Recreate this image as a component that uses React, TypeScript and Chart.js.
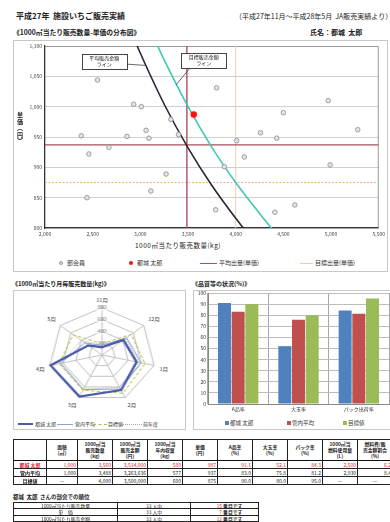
import React, { useEffect, useRef } from 'react';
import { Chart, registerables } from 'chart.js';

Chart.register(...registerables);

const FONT = '"Noto Sans CJK JP", "Noto Sans", sans-serif';
Chart.defaults.font.family = FONT;
Chart.defaults.color = '#333';

// ---------- 分布図 (1000㎡当たり販売数量 - 単価) ----------
const qtyAxis = [2000, 5500, 500];
const priceAxis = [800, 1100, 50];
const memberQty = [2550, 2930, 3010, 3320, 3060, 3400, 2380, 2860, 3090, 2670, 2460, 3270, 3110, 2440, 3800, 4970, 4500, 5280, 4260, 4430, 4010, 4090, 3880, 4990, 4620, 3790, 4410];
const memberPrice = [1044, 1004, 1000, 979, 961, 954, 952, 951, 948, 933, 922, 889, 861, 850, 1031, 1010, 990, 962, 957, 948, 944, 917, 901, 904, 838, 830, 826];
const selfName = '都城 太郎';
const selfQty = 3560;
const selfPrice = 987;
const avgQty = 3488;
const avgPrice = 937;
const targetQty = 4000;
const targetPrice = 875;
const avgCurveQty = [2940, 3000, 3250, 3500, 3750, 4000, 4100];
const avgCurvePrice = [1110, 1088, 1004, 932, 870, 816, 796];
const targetCurveQty = [3170, 3250, 3500, 3750, 4000, 4250, 4400];
const targetCurvePrice = [1104, 1077, 1000, 933, 875, 824, 795];

// ---------- 月毎販売数量 ----------
const months = ['11月', '12月', '1月', '2月', '3月', '4月', '5月'];
const radarAxis = [0, 800, 200];
const selfMonthly = [130, 410, 530, 660, 780, 790, 260];
const avgMonthly = [160, 470, 600, 640, 650, 640, 330];
const targetMonthly = [190, 560, 660, 720, 660, 660, 550];
const prevMonthly = [170, 450, 560, 610, 640, 620, 400];

// ---------- 品質等の状況 ----------
const qualityCategories = ['A品率', '大玉率', 'パック出荷率'];
const selfQuality = [91.1, 52.1, 84.3];
const avgQuality = [83.0, 75.8, 81.2];
const targetQuality = [90.0, 80.0, 95.0];

// ---------- 表 ----------
const tableHeaders = ['', '面積\n(㎡)', '1000㎡当\n販売数量\n(kg)', '1000㎡当\n販売金額\n(円)', '1000㎡当\n年内収量\n(kg)', '単価\n(円)', 'A品率\n(%)', '大玉率\n(%)', 'パック率\n(%)', '1000㎡当\n燃料使用量\n(L)', '燃料費/販\n売金額割合\n(%)'];
const tableRowNames = ['都城 太郎', '管内平均', '目標値'];
const tableSelf = ['1,000', '3,560', '3,514,000', '580', '987', '91.1', '52.1', '84.3', '2,500', '6.2'];
const tableAvg = ['1,000', '3,488', '3,263,636', '577', '937', '83.0', '75.8', '81.2', '2,930', '8.4'];
const tableTarget = ['—', '4,000', '3,500,000', '600', '875', '90.0', '80.0', '95.0', '—', '—'];

const rankItems = ['1000㎡当たり販売数量', '単　価', '1000㎡当たり販売金額'];
const rankTotals = [33, 33, 33];
const rankPositions = [15, 7, 12];

const pts = (xs: number[], ys: number[]) => xs.map((x, i) => ({ x, y: ys[i] }));
const lineDs = (label: string, data: any[], color: string, width: number, dash: number[] = []) => ({
  label, data, showLine: true, borderColor: color, backgroundColor: color, borderWidth: width,
  borderDash: dash, pointRadius: 0, pointHoverRadius: 0, fill: false,
});
const fmt = (v: any) => Number(v).toLocaleString('en-US');

const framePlugin = {
  id: 'frameTR',
  beforeDatasetsDraw(chart: any) {
    const { ctx, chartArea: { left, top, right, bottom } } = chart;
    ctx.save();
    ctx.strokeStyle = '#9a9a9a';
    ctx.lineWidth = 1;
    ctx.beginPath();
    ctx.moveTo(left, top + 0.5);
    ctx.lineTo(right - 0.5, top + 0.5);
    ctx.lineTo(right - 0.5, bottom);
    ctx.stroke();
    ctx.restore();
  },
};

const callouts = [
  { lines: ['平均販売金額', 'ライン'], x: 2622, y: 1075, w: 45, h: 15, tx: 3055, ty: 1068, side: 'right' },
  { lines: ['目標販売金額', 'ライン'], x: 3666, y: 1076, w: 45, h: 15, tx: 3375, ty: 1036, side: 'bottom' },
];

const calloutPlugin = {
  id: 'callouts',
  afterDatasetsDraw(chart: any) {
    const { ctx, scales: { x, y } } = chart;
    callouts.forEach((it) => {
      const cx = x.getPixelForValue(it.x);
      const cy = y.getPixelForValue(it.y);
      const tx = x.getPixelForValue(it.tx);
      const ty = y.getPixelForValue(it.ty);
      const l = Math.round(cx - it.w / 2);
      const t = Math.round(cy - it.h / 2);
      ctx.save();
      ctx.strokeStyle = '#444';
      ctx.lineWidth = 0.8;
      ctx.beginPath();
      if (it.side === 'right') ctx.moveTo(l + it.w, cy + 3);
      else ctx.moveTo(l + 9, t + it.h);
      ctx.lineTo(tx, ty);
      ctx.stroke();
      ctx.fillStyle = '#fff';
      ctx.fillRect(l, t, it.w, it.h);
      ctx.lineWidth = 1;
      ctx.strokeRect(l + 0.5, t + 0.5, it.w, it.h);
      ctx.fillStyle = '#222';
      ctx.font = `5px ${FONT}`;
      ctx.textAlign = 'center';
      ctx.textBaseline = 'middle';
      it.lines.forEach((ln, i) => ctx.fillText(ln, cx, t + 4.5 + i * 6));
      ctx.restore();
    });
  },
};

const abs = (left: number, top: number, extra: any = {}) => ({ position: 'absolute' as const, left, top, ...extra });

export default function App() {
  const scatterRef = useRef<HTMLCanvasElement>(null);
  const radarRef = useRef<HTMLCanvasElement>(null);
  const barRef = useRef<HTMLCanvasElement>(null);

  useEffect(() => {
    const charts: any[] = [];
    charts.push(new Chart(scatterRef.current as any, {
      type: 'scatter',
      data: {
        datasets: [
          { label: selfName, data: [{ x: selfQty, y: selfPrice }], backgroundColor: '#ff1010', borderColor: '#ff1010', borderWidth: 0, pointRadius: 3.2 },
          { label: '部会員', data: pts(memberQty, memberPrice), backgroundColor: '#e4e4e4', borderColor: '#8c8c8c', borderWidth: 0.8, pointRadius: 2.3 },
          { ...lineDs('平均販売金額ライン', pts(avgCurveQty, avgCurvePrice), '#262838', 1.6), cubicInterpolationMode: 'monotone' },
          { ...lineDs('目標販売金額ライン', pts(targetCurveQty, targetCurvePrice), '#3fc9b5', 1.6), cubicInterpolationMode: 'monotone' },
          lineDs('平均出量(単価)', [{ x: qtyAxis[0], y: avgPrice }, { x: qtyAxis[1], y: avgPrice }], '#a94f5d', 1.4),
          lineDs('平均出量(数量)', [{ x: avgQty, y: priceAxis[0] }, { x: avgQty, y: priceAxis[1] }], '#a94f5d', 1.4),
          lineDs('目標出量(単価)', [{ x: qtyAxis[0], y: targetPrice }, { x: qtyAxis[1], y: targetPrice }], '#f2b478', 1, [2, 1.5]),
          lineDs('目標出量(数量)', [{ x: targetQty, y: priceAxis[0] }, { x: targetQty, y: priceAxis[1] }], '#f4cfae', 1),
        ] as any,
      },
      options: {
        animation: false, responsive: false, maintainAspectRatio: false, events: [],
        layout: { padding: { left: 0, right: 8, top: 5, bottom: 0 } },
        plugins: { legend: { display: false }, tooltip: { enabled: false } },
        scales: {
          x: {
            type: 'linear', min: qtyAxis[0], max: qtyAxis[1],
            ticks: { stepSize: qtyAxis[2], font: { size: 5 }, padding: 3, color: '#444', maxRotation: 0, callback: fmt },
            grid: { display: false, drawTicks: false },
            border: { color: '#333', width: 1.3 },
            afterFit: (s: any) => { s.height = 12; },
          },
          y: {
            min: priceAxis[0], max: priceAxis[1],
            ticks: { stepSize: priceAxis[2], font: { size: 5 }, padding: 3, color: '#444', callback: fmt },
            grid: { color: '#cfcfcf', drawTicks: false },
            border: { color: '#333', width: 1.3 },
            afterFit: (s: any) => { s.width = 32; },
          },
        },
      } as any,
      plugins: [framePlugin, calloutPlugin],
    }));

    charts.push(new Chart(radarRef.current as any, {
      type: 'radar',
      data: {
        labels: months,
        datasets: [
          { label: selfName, data: selfMonthly, borderColor: '#4a5aa8', borderWidth: 2.2, pointRadius: 0, fill: false },
          { label: '管内平均', data: avgMonthly, borderColor: '#8da0d0', borderWidth: 1, pointRadius: 0, fill: false },
          { label: '目標値', data: targetMonthly, borderColor: '#b5c23c', borderWidth: 1, borderDash: [3, 2], pointRadius: 0, fill: false },
          { label: '前年度', data: prevMonthly, borderColor: '#a8a8a8', borderWidth: 1, borderDash: [1, 1.5], pointRadius: 0, fill: false },
        ],
      },
      options: {
        animation: false, responsive: false, maintainAspectRatio: false, events: [],
        layout: { padding: 0 },
        elements: { line: { tension: 0 } },
        plugins: { legend: { display: false }, tooltip: { enabled: false } },
        scales: {
          r: {
            min: radarAxis[0], max: radarAxis[1],
            ticks: { stepSize: radarAxis[2], font: { size: 4.5 }, color: '#555', backdropColor: 'rgba(255,255,255,0.9)', backdropPadding: 0.5 },
            grid: { color: '#c2c2c2' },
            angleLines: { color: '#c2c2c2' },
            pointLabels: { font: { size: 5 }, color: '#333', padding: 2 },
          },
        },
      } as any,
    }));

    charts.push(new Chart(barRef.current as any, {
      type: 'bar',
      data: {
        labels: qualityCategories,
        datasets: [
          { label: selfName, data: selfQuality, backgroundColor: '#4F81BD' },
          { label: '管内平均', data: avgQuality, backgroundColor: '#C0504D' },
          { label: '目標値', data: targetQuality, backgroundColor: '#9BBB59' },
        ],
      },
      options: {
        animation: false, responsive: false, maintainAspectRatio: false, events: [],
        layout: { padding: { left: 0, right: 1, top: 6, bottom: 0 } },
        datasets: { bar: { categoryPercentage: 0.68, barPercentage: 0.95 } },
        plugins: { legend: { display: false }, tooltip: { enabled: false } },
        scales: {
          x: {
            ticks: { font: { size: 5 }, padding: 2, color: '#333' },
            grid: { color: '#a8a8a8', drawTicks: false, offset: true },
            border: { color: '#888' },
            afterFit: (s: any) => { s.height = 8; },
          },
          y: {
            min: 0, max: 100,
            ticks: { stepSize: 10, font: { size: 5 }, padding: 2, color: '#333' },
            grid: { color: '#bdbdbd', drawTicks: false },
            border: { color: '#888' },
            afterFit: (s: any) => { s.width = 15; },
          },
        },
      } as any,
    }));

    return () => charts.forEach((c) => c.destroy());
  }, []);

  const legendText = (left: number, cy: number, text: string, size: number, color = '#333') => (
    <div style={abs(left, cy - 4, { fontSize: size, lineHeight: '8px', whiteSpace: 'nowrap', color })}>{text}</div>
  );

  const cell: any = { border: '1px solid #222', padding: '0 1px', overflow: 'hidden', whiteSpace: 'nowrap' };
  const rows = [tableSelf, tableAvg, tableTarget];

  return (
    <div style={{ position: 'absolute', left: 0, top: 0, width: 390, height: 522, overflow: 'hidden', background: '#fff', fontFamily: FONT, color: '#222' }}>
      <div style={abs(16, 11, { fontSize: 8, lineHeight: '10px', fontWeight: 700, whiteSpace: 'nowrap' })}>平成27年&nbsp;&nbsp;施設いちご販売実績</div>
      <div style={abs(235, 12, { fontSize: 7, lineHeight: '9px', whiteSpace: 'nowrap' })}>（平成27年11月～平成28年5月&nbsp;&nbsp;JA販売実績より）</div>
      <div style={abs(13, 28, { fontSize: 6.8, lineHeight: '8px', fontWeight: 700, whiteSpace: 'nowrap' })}>《1000㎡当たり販売数量-単価の分布図》</div>
      <div style={abs(310, 28, { fontSize: 7, lineHeight: '8px', fontWeight: 700, whiteSpace: 'nowrap' })}>氏名：都城&nbsp;&nbsp;太郎</div>

      <div style={abs(13, 40, { width: 375, height: 232, border: '1px solid #c8c8c8', boxSizing: 'border-box' })} />
      <canvas ref={scatterRef} width={375} height={200} style={abs(13, 40, { display: 'block' })} />
      <div style={abs(16, 112, { width: 8, textAlign: 'center', fontSize: 6, lineHeight: '6.5px', fontWeight: 700 })}>
        {['単', '価', '︵', '円', '︶'].map((c, i) => <div key={i}>{c}</div>)}
      </div>
      <div style={abs(108, 241, { width: 140, textAlign: 'center', fontSize: 6.5, lineHeight: '8px', letterSpacing: '0.5px', whiteSpace: 'nowrap' })}>1000㎡当たり販売数量(kg)</div>
      <div style={abs(59, 261, { width: 4, height: 4, borderRadius: '50%', border: '0.8px solid #999', background: '#e4e4e4', boxSizing: 'border-box' })} />
      {legendText(67, 263, '部会員', 6)}
      <div style={abs(129, 261, { width: 4, height: 4, borderRadius: '50%', background: '#ff1010' })} />
      {legendText(137, 263, selfName, 6)}
      <div style={abs(200, 262.5, { width: 17, height: 1, background: '#a94f5d' })} />
      {legendText(219, 263, '平均出量(単価)', 6)}
      <div style={abs(300, 262.5, { width: 13, height: 1, background: '#f2c9a0' })} />
      {legendText(315, 263, '目標出量(単価)', 6)}

      <div style={abs(12, 280, { fontSize: 6, lineHeight: '8px', fontWeight: 700, whiteSpace: 'nowrap' })}>《1000㎡当たり月毎販売数量(kg)》</div>
      <div style={abs(192, 280, { fontSize: 6, lineHeight: '8px', fontWeight: 700, whiteSpace: 'nowrap' })}>《品質等の状況(%)》</div>

      <div style={abs(13, 290, { width: 173, height: 140, border: '1px solid #c8c8c8', boxSizing: 'border-box' })} />
      <div style={abs(27, 295, { width: 150, height: 116, transform: 'scaleX(1.13)', transformOrigin: '75px 58px' })}>
        <canvas ref={radarRef} width={150} height={116} style={{ display: 'block' }} />
      </div>
      <div style={abs(18, 423, { width: 15, height: 2, background: '#4a5aa8' })} />
      {legendText(35, 424, selfName, 5)}
      <div style={abs(57, 423.5, { width: 16, height: 1, background: '#8da0d0' })} />
      {legendText(75, 424, '管内平均', 5)}
      <div style={abs(93, 423.5, { width: 14, height: 0, borderTop: '1px dashed #b5c23c' })} />
      {legendText(108, 424, '目標値', 5)}
      <div style={abs(123, 423.5, { width: 19, height: 0, borderTop: '1px dotted #a8a8a8' })} />
      {legendText(143, 424, '前年度', 5)}

      <div style={abs(193, 290, { width: 200, height: 140, border: '1px solid #c8c8c8', boxSizing: 'border-box' })} />
      <canvas ref={barRef} width={197} height={125} style={abs(193, 287, { display: 'block' })} />
      <div style={abs(225, 421, { width: 4, height: 4, background: '#4F81BD' })} />
      {legendText(230, 423, selfName, 5.5)}
      <div style={abs(287, 421, { width: 4, height: 4, background: '#C0504D' })} />
      {legendText(292, 423, '管内平均', 5.5)}
      <div style={abs(343, 421, { width: 4, height: 4, background: '#9BBB59' })} />
      {legendText(348, 423, '目標値', 5.5)}

      <table style={abs(13, 439, { borderCollapse: 'collapse', tableLayout: 'fixed', width: 379, border: '1.5px solid #111', fontSize: 5, lineHeight: '6px' })}>
        <colgroup>
          {[33, 31, 35, 35, 35, 35, 35, 35, 35, 35, 35].map((w, i) => <col key={i} style={{ width: w }} />)}
        </colgroup>
        <tbody>
          <tr style={{ height: 21 }}>
            {tableHeaders.map((h, i) => (
              <th key={i} style={{ ...cell, fontSize: 4.8, fontWeight: 700, textAlign: 'center', borderBottom: '1.5px solid #111' }}>
                {h.split('\n').map((ln, j) => <div key={j}>{ln}</div>)}
              </th>
            ))}
          </tr>
          {rows.map((r, ri) => (
            <tr key={ri} style={{ height: 8 }}>
              <td style={{ ...cell, textAlign: 'center', fontWeight: 700, color: ri === 0 ? '#e02030' : '#222' }}>{tableRowNames[ri]}</td>
              {r.map((v, ci) => (
                <td key={ci} style={{ ...cell, textAlign: v === '—' ? 'center' : 'right', color: ri === 0 ? '#e02030' : '#222' }}>{v}</td>
              ))}
            </tr>
          ))}
        </tbody>
      </table>

      <div style={abs(13, 494, { fontSize: 5.5, lineHeight: '7px', fontWeight: 700, whiteSpace: 'nowrap' })}>都城&nbsp;&nbsp;太郎&nbsp;&nbsp;さんの部会での順位</div>
      <table style={abs(13, 502, { borderCollapse: 'collapse', tableLayout: 'fixed', width: 245, border: '1.5px solid #111', fontSize: 4.8, lineHeight: '5px' })}>
        <colgroup>
          <col style={{ width: 104 }} />
          <col style={{ width: 73 }} />
          <col style={{ width: 68 }} />
        </colgroup>
        <tbody>
          {rankItems.map((it, i) => (
            <tr key={i} style={{ height: 6.3 }}>
              <td style={{ ...cell, textAlign: 'center' }}>{it}</td>
              <td style={{ ...cell, textAlign: 'center' }}>{rankTotals[i]}&nbsp;人中</td>
              <td style={{ ...cell, textAlign: 'left' }}>
                <span style={{ display: 'inline-block', width: 30, textAlign: 'right', color: '#e02030' }}>{rankPositions[i]}</span>
                <span style={{ fontWeight: 700 }}>&nbsp;番目です</span>
              </td>
            </tr>
          ))}
        </tbody>
      </table>
    </div>
  );
}
